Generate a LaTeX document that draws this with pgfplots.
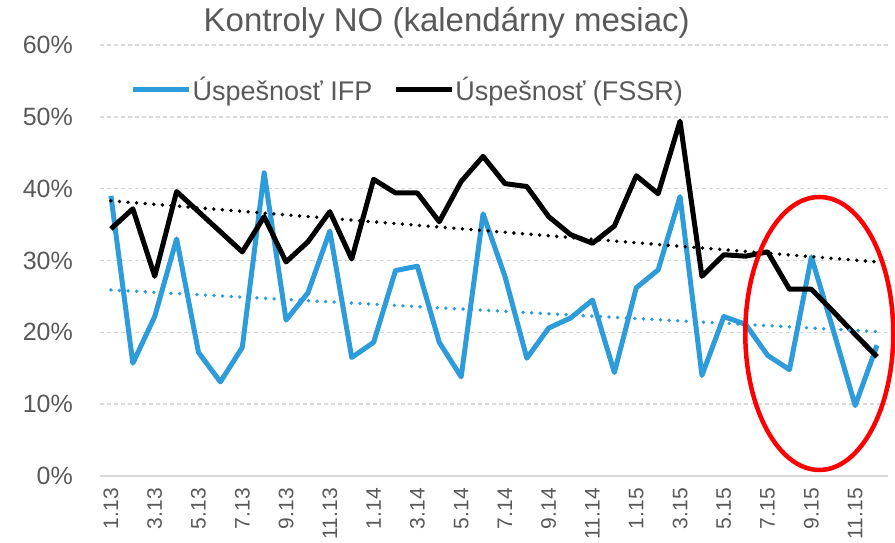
\documentclass[border=0pt]{standalone}
\usepackage{fontspec}
\setmainfont{Liberation Sans}
\usepackage{pgfplots}
\pgfplotsset{compat=1.18}
\definecolor{ifp}{RGB}{46,155,219}
\definecolor{txt}{RGB}{89,89,89}
\definecolor{gridc}{RGB}{217,217,217}

\pgfplotstableread{
i ifp fssr
0 39.0 34.4
1 15.7 37.2
2 22.2 27.8
3 33.0 39.6
4 17.2 36.8
5 13.1 34.0
6 17.9 31.2
7 42.2 36.1
8 21.7 29.8
9 25.5 32.6
10 34.1 36.8
11 16.5 30.2
12 18.6 41.3
13 28.6 39.4
14 29.2 39.4
15 18.6 35.4
16 13.8 41.0
17 36.5 44.5
18 27.8 40.7
19 16.4 40.3
20 20.6 36.1
21 22.0 33.6
22 24.5 32.4
23 14.4 34.8
24 26.2 41.8
25 28.7 39.3
26 38.9 49.4
27 14.0 27.8
28 22.2 30.8
29 21.1 30.6
30 16.8 31.2
31 14.8 26.0
32 30.5 26.0
33 20.3 22.9
34 9.8 19.7
35 18.2 16.6
}\datatable

\pgfplotstableread{
i ifp fssr
0 25.9 38.3
35 20.1 29.8
}\trendtable

\begin{document}
\begin{tikzpicture}
\begin{axis}[
  scale only axis, width=788pt, height=431pt,
  xmin=-0.5, xmax=35.5, ymin=0, ymax=60,
  clip=false,
  axis line style={draw=none},
  tick style={draw=none},
  major tick length=0pt,
  ytick={0,10,20,30,40,50,60},
  yticklabels={0\%,10\%,20\%,30\%,40\%,50\%,60\%},
  yticklabel style={font=\fontsize{25}{30}\selectfont, text=txt, anchor=east, inner sep=0pt, xshift=-27pt},
  xtick={0,2,...,34},
  xticklabels={1.13,3.13,5.13,7.13,9.13,11.13,1.14,3.14,5.14,7.14,9.14,11.14,1.15,3.15,5.15,7.15,9.15,11.15},
  xticklabel style={font=\fontsize{21}{25}\selectfont, text=txt, inner sep=0pt, rotate=90, anchor=east},
  xticklabel shift=12pt,
  ymajorgrids,
  grid style={draw=gridc, line width=1.5pt, dash pattern=on 4pt off 3pt},
  title={Kontroly NO (kalendárny mesiac)},
  title style={at={(rel axis cs:0.44,1)}, anchor=base, yshift=7pt, font=\fontsize{33}{39}\selectfont, text=txt, inner sep=0pt},
  legend style={at={(rel axis cs:0.390,0.896)}, anchor=center, draw=none, fill=none,
    font=\fontsize{27}{32}\selectfont, text=txt, nodes={inner sep=1pt},
    /tikz/every even column/.append style={column sep=20pt}},
  legend columns=2,
  legend image code/.code={\draw[#1] (0pt,0pt) -- (56pt,0pt);},
]
\draw[gridc, line width=1.5pt] (rel axis cs:0,0) -- (rel axis cs:1,0);
\addplot[ifp, line width=5pt, line join=round] table[x=i, y=ifp] {\datatable};
\addlegendentry{Úspešnosť IFP}
\addplot[black, line width=5pt, line join=round] table[x=i, y=fssr] {\datatable};
\addlegendentry{Úspešnosť (FSSR)}
\addplot[ifp, line width=3.8pt, line cap=round, dash pattern=on 0pt off 8.6pt, forget plot] table[x=i, y=ifp] {\trendtable};
\addplot[black, line width=3.8pt, line cap=round, dash pattern=on 0pt off 8.6pt, forget plot] table[x=i, y=fssr] {\trendtable};
\draw[red, line width=4.5pt] (axis cs:32.36,19.84) ellipse [x radius=3.38, y radius=19.0];
\coordinate (bbsw) at (rel axis cs:0,0);
\coordinate (bbne) at (rel axis cs:1,1);
\end{axis}
\pgfresetboundingbox
\path ([xshift=-100pt,yshift=-67pt]bbsw) rectangle ([xshift=7pt,yshift=45pt]bbne);
\end{tikzpicture}
\end{document}
